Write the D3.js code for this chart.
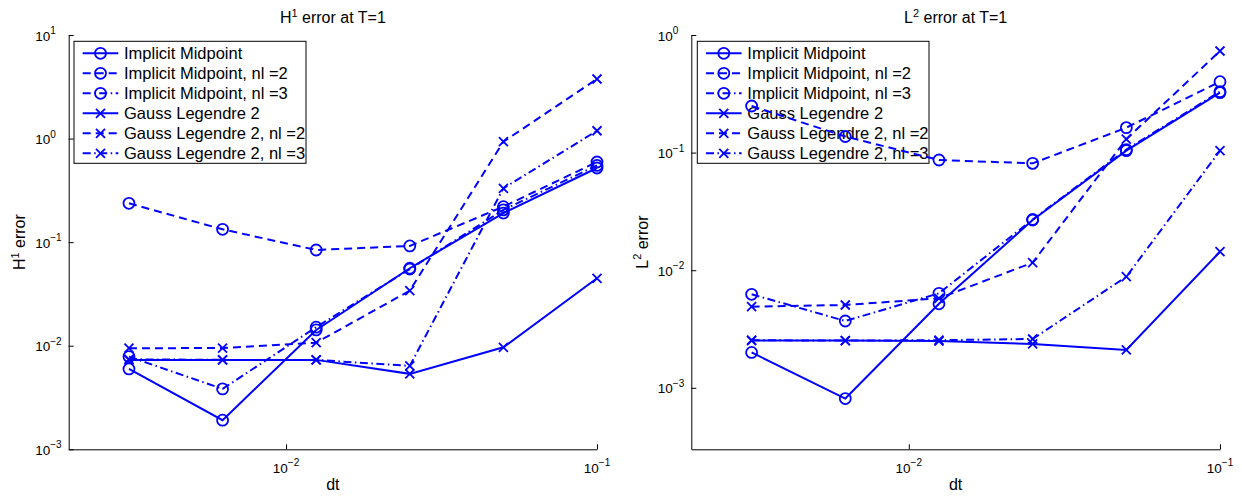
<!DOCTYPE html>
<html lang="en">

<head>
    <meta charset="UTF-8">
    <script src="https://cdn.jsdelivr.net/npm/d3@7"></script>
    <title>Error at T=1</title>
    <style>
        body { margin: 0; background: #fff; }
        svg { font-family: "Liberation Sans", Arial, Helvetica, sans-serif; }
    </style>
</head>

<body>
    <div id="viz"></div>

    <script>
        // time steps (x values, shared by both panels)
        const dt = [0.003125, 0.00625, 0.0125, 0.025, 0.05, 0.1]
        const xTicks = [0.01, 0.1]

        const seriesNames = [
            "Implicit Midpoint",
            "Implicit Midpoint, nl =2",
            "Implicit Midpoint, nl =3",
            "Gauss Legendre 2",
            "Gauss Legendre 2, nl =2",
            "Gauss Legendre 2, nl =3"
        ]

        // H1 error values
        const h1IM    = [0.00597, 0.00191, 0.0142, 0.056, 0.191, 0.52]
        const h1IMnl2 = [0.237, 0.133, 0.084, 0.092, 0.22, 0.594]
        const h1IMnl3 = [0.00785, 0.00383, 0.0151, 0.055, 0.205, 0.55]
        const h1GL    = [0.0073, 0.0073, 0.0073, 0.00535, 0.00966, 0.0448]
        const h1GLnl2 = [0.00946, 0.0095, 0.0107, 0.034, 0.933, 3.76]
        const h1GLnl3 = [0.0074, 0.0073, 0.0073, 0.00638, 0.331, 1.19]
        const h1Ticks = [1e-3, 1e-2, 1e-1, 1, 10]

        // L2 error values
        const l2IM    = [0.0020, 0.00081, 0.00518, 0.0267, 0.104, 0.323]
        const l2IMnl2 = [0.249, 0.137, 0.0865, 0.081, 0.163, 0.401]
        const l2IMnl3 = [0.00624, 0.0037, 0.00636, 0.027, 0.106, 0.33]
        const l2GL    = [0.00252, 0.00252, 0.0025, 0.00236, 0.0021, 0.01437]
        const l2GLnl2 = [0.0049, 0.00506, 0.00577, 0.0116, 0.13, 0.731]
        const l2GLnl3 = [0.00254, 0.00252, 0.00254, 0.0026, 0.0088, 0.104]
        const l2Ticks = [1e-3, 1e-2, 1e-1, 1]

        const width = 1242
        const height = 496
        const blue = "#0000ff"

        // line style + marker for each series
        const styles = [
            {dash: null, marker: "o"},
            {dash: "8,5", marker: "o"},
            {dash: "8,3.5,1.5,3.5", marker: "o"},
            {dash: null, marker: "x"},
            {dash: "8,5", marker: "x"},
            {dash: "8,3.5,1.5,3.5", marker: "x"}
        ]

        const svg = d3.select("#viz")
            .append("svg")
            .attr("width", width)
            .attr("height", height)

        const expText = t => String(Math.round(Math.log10(t))).replace("-", "\u2212")

        function addMarkers(g, pts, type, fx, fy) {
            if (type === "o") {
                g.selectAll(".m")
                    .data(pts)
                    .join("circle")
                    .attr("cx", d => fx(d))
                    .attr("cy", d => fy(d))
                    .attr("r", 5.5)
                    .attr("fill", "none")
                    .attr("stroke", blue)
                    .attr("stroke-width", 1.8)
            } else {
                const s = 4.5
                g.selectAll(".m")
                    .data(pts)
                    .join("path")
                    .attr("d", d => {
                        const cx = fx(d), cy = fy(d)
                        return `M${cx-s},${cy-s}L${cx+s},${cy+s}M${cx-s},${cy+s}L${cx+s},${cy-s}`
                    })
                    .attr("fill", "none")
                    .attr("stroke", blue)
                    .attr("stroke-width", 1.8)
            }
        }

        function drawPanel(p) {
            const top = 35, bottom = 449.3
            const xScale = d3.scaleLog()
                .domain([0.002, 0.1])
                .range([p.left, p.right])
            const yScale = d3.scaleLog()
                .domain(p.yDomain)
                .range([bottom, top])

            // axes (only left and bottom, ticks pointing inward)
            svg.append("g")
                .attr("transform", `translate(0,${bottom})`)
                .call(d3.axisBottom(xScale).tickValues(xTicks).tickSizeInner(-5).tickSizeOuter(0).tickFormat(""))
                .call(g => g.selectAll("path, line").attr("stroke", "#000"))
            svg.append("g")
                .attr("transform", `translate(${p.left},0)`)
                .call(d3.axisLeft(yScale).tickValues(p.yTicks).tickSizeInner(-5).tickSizeOuter(0).tickFormat(""))
                .call(g => g.selectAll("path, line").attr("stroke", "#000"))

            // tick labels as 10^n
            const xl = svg.selectAll(null)
                .data(xTicks)
                .enter()
                .append("text")
                .attr("x", d => xScale(d))
                .attr("y", bottom + 24)
                .attr("text-anchor", "middle")
                .attr("font-size", 13.5)
            xl.append("tspan").text("10")
            xl.append("tspan").attr("dy", -7).attr("font-size", 10).text(d => expText(d))

            const yl = svg.selectAll(null)
                .data(p.yTicks)
                .enter()
                .append("text")
                .attr("x", p.left - 33.5)
                .attr("y", d => yScale(d) + 5.5)
                .attr("font-size", 13.5)
            yl.append("tspan").text("10")
            yl.append("tspan").attr("dy", -6.5).attr("font-size", 10).text(d => expText(d))

            // title and axis labels
            const title = svg.append("text")
                .attr("x", (p.left + p.right) / 2)
                .attr("y", 23)
                .attr("text-anchor", "middle")
                .attr("font-size", 16)
            title.append("tspan").text(p.letter)
            title.append("tspan").attr("dy", -6.5).attr("font-size", 11).text(p.power)
            title.append("tspan").attr("dy", 6.5).text(" error at T=1")

            svg.append("text")
                .attr("x", (p.left + p.right) / 2)
                .attr("y", 490)
                .attr("text-anchor", "middle")
                .attr("font-size", 16)
                .text("dt")

            const ylab = svg.append("text")
                .attr("transform", `translate(${p.left - 43.5},${(top + bottom) / 2}) rotate(-90)`)
                .attr("text-anchor", "middle")
                .attr("font-size", 16)
            ylab.append("tspan").text(p.letter)
            ylab.append("tspan").attr("dy", -6.5).attr("font-size", 11).text(p.power)
            ylab.append("tspan").attr("dy", 6.5).text(" error")

            // legend (drawn under the data, as in the original)
            const lx = p.legendLeft, ly = 41.3
            const legend = svg.append("g")
            legend.append("rect")
                .attr("x", lx)
                .attr("y", ly)
                .attr("width", p.legendWidth)
                .attr("height", 122)
                .attr("fill", "#fff")
                .attr("stroke", "#000")
                .attr("stroke-width", 1)
            seriesNames.forEach((name, i) => {
                const cy = ly + 12 + i * 20
                const row = legend.append("g")
                row.append("line")
                    .attr("x1", lx + 8.7)
                    .attr("x2", lx + 44.3)
                    .attr("y1", cy)
                    .attr("y2", cy)
                    .attr("stroke", blue)
                    .attr("stroke-width", 2)
                    .attr("stroke-dasharray", styles[i].dash)
                addMarkers(row, [0], styles[i].marker, () => lx + 26.5, () => cy)
                row.append("text")
                    .attr("x", lx + 50)
                    .attr("y", cy + 6)
                    .attr("font-size", 16.5)
                    .text(name)
            })

            // data lines
            const lineGen = d3.line()
                .x(d => xScale(d[0]))
                .y(d => yScale(d[1]))

            p.series.forEach((vals, i) => {
                const pts = dt.map((t, j) => [t, vals[j]])
                svg.append("path")
                    .attr("d", lineGen(pts))
                    .attr("fill", "none")
                    .attr("stroke", blue)
                    .attr("stroke-width", 2)
                    .attr("stroke-dasharray", styles[i].dash)
                addMarkers(svg.append("g"), pts, styles[i].marker, d => xScale(d[0]), d => yScale(d[1]))
            })
        }

        drawPanel({
            left: 68.7, right: 597,
            yDomain: [1e-3, 10], yTicks: h1Ticks,
            letter: "H", power: "1",
            legendLeft: 74, legendWidth: 232,
            series: [h1IM, h1IMnl2, h1IMnl3, h1GL, h1GLnl2, h1GLnl3]
        })

        drawPanel({
            left: 691.3, right: 1220,
            yDomain: [3e-4, 1], yTicks: l2Ticks,
            letter: "L", power: "2",
            legendLeft: 697.3, legendWidth: 231.7,
            series: [l2IM, l2IMnl2, l2IMnl3, l2GL, l2GLnl2, l2GLnl3]
        })
    </script>
</body>

</html>
